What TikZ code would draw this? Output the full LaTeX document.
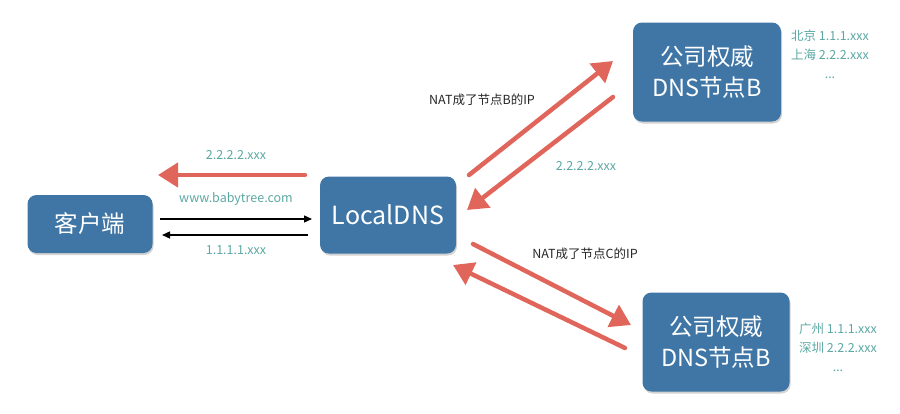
\documentclass[tikz,border=0pt]{standalone}
\usepackage{fontspec}
\setmainfont{Noto Sans CJK SC}
\usetikzlibrary{
  arrows.meta,
  shadows}

\definecolor{boxblue}{HTML}{3F76A6}
\definecolor{ipteal}{HTML}{5BA8A3}
\definecolor{natred}{HTML}{E0665B}

\tikzset{
  dnsbox/.style={rounded corners=9pt, fill=boxblue, text=white, align=center,
    inner sep=0pt, font=\fontsize{23.5}{31}\selectfont,
    drop shadow={opacity=.35, shadow xshift=1pt, shadow yshift=-2pt}},
  iplabel/.style={text=ipteal, align=center, font=\fontsize{12.5}{19}\selectfont},
  natlabel/.style={text=black!85, font=\fontsize{12.5}{14}\selectfont},
  redarrow/.style={natred, line width=4.5pt, line cap=round,
    -{Triangle[length=20pt,width=24pt]}},
  blackarrow/.style={line width=1.3pt, -{Triangle[length=8pt,width=7pt]}},
}

\begin{document}
\begin{tikzpicture}[x=1pt, y=-1pt]
\useasboundingbox (0,0) rectangle (900,413);

% boxes
\node[dnsbox, minimum width=125pt, minimum height=58pt] (client) at (90,224) {客户端};
\node[dnsbox, minimum width=136pt, minimum height=77pt, font=\fontsize{25}{31}\selectfont] (local) at (388,215) {LocalDNS};
\node[dnsbox, minimum width=148pt, minimum height=99pt] (authB) at (707,72) {公司权威\\DNS节点B};
\node[dnsbox, minimum width=147pt, minimum height=99pt] (authC) at (716,342) {公司权威\\DNS节点B};

% labels
\node[iplabel] (ansB) at (236,155) {2.2.2.2.xxx};
\node[iplabel] (query) at (236,199) {www.babytree.com};
\node[iplabel] (ansA) at (236,250) {1.1.1.1.xxx};
\node[natlabel] (natB) at (482,100) {NAT成了节点B的IP};
\node[iplabel] (retB) at (586,166) {2.2.2.2.xxx};
\node[natlabel] (natC) at (585,254) {NAT成了节点C的IP};
\node[iplabel] (mapB) at (830,54) {北京 1.1.1.xxx\\上海 2.2.2.xxx\\...};
\node[iplabel] (mapC) at (838,347) {广州 1.1.1.xxx\\深圳 2.2.2.xxx\\...};

% arrow ends
\coordinate (l1) at (305,175);  \coordinate (c1) at (158,175);
\coordinate (c2) at (160,219);  \coordinate (l2) at (312,219);
\coordinate (l3) at (308,235);  \coordinate (c3) at (162,235);
\coordinate (l4) at (469,175);  \coordinate (b4) at (613,61);
\coordinate (b5) at (613,97);   \coordinate (l5) at (467,210);
\coordinate (l6) at (473,244);  \coordinate (b6) at (631,325);
\coordinate (b7) at (625,348);  \coordinate (l7) at (453,265);

\draw[blackarrow] (c2) -- (l2);
\draw[blackarrow] (l3) -- (c3);

\foreach \a/\b in {l1/c1, l4/b4, b5/l5, l6/b6, b7/l7}
  \draw[redarrow] (\a) -- (\b);

\end{tikzpicture}
\end{document}
